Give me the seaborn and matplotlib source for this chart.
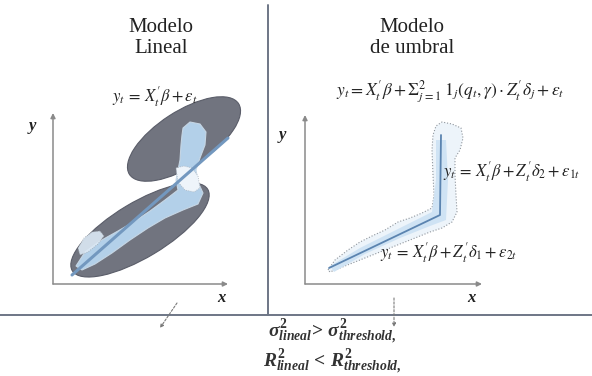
import numpy as np
import pandas as pd
import seaborn as sns
import matplotlib
matplotlib.use("Agg")
import matplotlib.pyplot as plt
from matplotlib.patches import Ellipse, Polygon

# ---------------- data (diagram coordinates, image pixels) ----------------
titles = ["Modelo\nLineal", "Modelo\nde umbral"]
eq_linear = r"$y_t\,=\,X_t'\beta+\varepsilon_t$"
eq_threshold = r"$y_t = X_t'\beta + \Sigma_{j=1}^{2}\; 1_j(q_t,\gamma)\cdot Z_t'\delta_j + \varepsilon_t$"
eq_regime2 = r"$y_t\,=\,X_t'\beta+Z_t'\delta_2+\epsilon_{1t}$"
eq_regime1 = r"$y_t\,=\,X_t'\beta+Z_t'\delta_1+\epsilon_{2t}$"
bottom_lines = [r"$\sigma^2_{lineal}\!>\,\sigma^2_{threshold,}$",
                r"$R^2_{lineal}\,<\,R^2_{threshold,}$"]

# linear fit line (left panel)
lin_x = [72, 228]
lin_y = [275, 138]
# threshold (piecewise) line (right panel)
thr_x = [329, 440, 441]
thr_y = [268, 215, 135]

# ellipses: centre x, centre y, major, minor, angle
ell_cx = [184, 140]
ell_cy = [139, 230]
ell_w = [130, 158]
ell_h = [55, 55]
ell_ang = [33, 31]

# left light-blue blob
blobL_x = [183, 190, 200, 206, 205, 200, 196, 198, 203, 198, 183, 165, 148, 130, 112, 95, 82,
           76, 85, 100, 118, 135, 150, 165, 178, 176, 178, 180, 181, 182]
blobL_y = [128, 122, 124, 132, 145, 158, 170, 182, 193, 204, 210, 218, 228, 240, 253, 264, 270,
           266, 252, 241, 231, 221, 211, 200, 190, 180, 170, 160, 145, 135]
# neck between ellipses
neck_x = [176, 184, 192, 198, 200, 194, 185, 178]
neck_y = [168, 166, 168, 176, 188, 192, 190, 182]
# small outlined patch (left)
patch_x = [78, 84, 92, 100, 104, 98, 88, 80]
patch_y = [248, 238, 232, 231, 236, 244, 252, 255]

# right outlined blob
blobR_x = [328, 335, 348, 360, 372, 385, 398, 410, 422, 432, 434, 433, 432, 433, 436, 442, 452,
           461, 463, 460, 455, 455, 456, 457, 452, 442, 430, 415, 400, 385, 370, 355, 340, 330]
blobR_y = [270, 260, 250, 242, 236, 230, 222, 218, 213, 208, 195, 175, 150, 135, 126, 122, 124,
           128, 138, 150, 158, 175, 195, 212, 222, 228, 232, 238, 244, 250, 256, 262, 268, 272]
# inner light-blue band (right)
bandR_x = [330, 360, 400, 432, 436, 436, 446, 448, 446, 430, 400, 365, 334]
bandR_y = [266, 248, 228, 212, 180, 140, 140, 180, 220, 226, 238, 254, 272]

# ---------------- drawing ----------------
sns.set_theme(style="white")
plt.rcParams["mathtext.fontset"] = "stix"
plt.rcParams["mathtext.rm"] = "Liberation Serif:bold"
plt.rcParams["mathtext.it"] = "Liberation Serif:italic:bold"
plt.rcParams["mathtext.bf"] = "Liberation Serif:bold"
plt.rcParams["font.family"] = ["Liberation Serif", "DejaVu Serif"]

W, H = 592, 376
fig = plt.figure(figsize=(W / 100, H / 100), dpi=100)
ax = fig.add_axes([0, 0, 1, 1])
ax.set_xlim(0, W)
ax.set_ylim(H, 0)
ax.axis("off")

txt = "#222222"
axis_c = "#8a8a8a"
frame_c = "#6e7686"

# frame lines
ax.plot([268, 268], [5, 315], color=frame_c, lw=1.4)
ax.plot([0, W], [315, 315], color=frame_c, lw=1.4)

# titles
ax.text(161, 38, titles[0], ha="center", va="center", fontsize=15, color=txt, linespacing=1.15)
ax.text(412, 38, titles[1], ha="center", va="center", fontsize=15, color=txt, linespacing=1.15)

# ellipses
for cx, cy, w, h, a in zip(ell_cx, ell_cy, ell_w, ell_h, ell_ang):
    ax.add_patch(Ellipse((cx, cy), w, h, angle=-a, facecolor="#71747f",
                         edgecolor="#5a5d69", lw=0.8, zorder=2))

# blobs
ax.add_patch(Polygon(np.c_[blobL_x, blobL_y], closed=True, facecolor="#b7d6f0",
                     edgecolor="#c8d8e6", lw=0.8, alpha=0.95, zorder=3))
ax.add_patch(Polygon(np.c_[neck_x, neck_y], closed=True, facecolor="#eef4fa",
                     edgecolor="#a9b2bd", lw=0.6, ls=":", zorder=3))
ax.add_patch(Polygon(np.c_[patch_x, patch_y], closed=True, facecolor="#dce9f5",
                     edgecolor="#9da3aa", lw=0.6, ls=":", alpha=0.9, zorder=3))
ax.add_patch(Polygon(np.c_[blobR_x, blobR_y], closed=True, facecolor="#edf4fa",
                     edgecolor="#8f959c", lw=0.8, ls=":", zorder=3))
ax.add_patch(Polygon(np.c_[bandR_x, bandR_y], closed=True, facecolor="#cfe3f4",
                     edgecolor="none", zorder=3))

# fit lines through seaborn
lin_df = pd.DataFrame({"x": lin_x, "y": lin_y})
thr_df = pd.DataFrame({"x": thr_x, "y": thr_y})
sns.lineplot(data=lin_df, x="x", y="y", sort=False, ax=ax, color="#7398bf", lw=2.2, zorder=4)
sns.lineplot(data=thr_df, x="x", y="y", sort=False, ax=ax, color="#5b84b0", lw=1.3, zorder=4)
ax.set_xlim(0, W)
ax.set_ylim(H, 0)
ax.axis("off")

# coordinate axes with arrows
arrow = dict(arrowstyle="-|>", color=axis_c, lw=1.1, mutation_scale=7, shrinkA=0, shrinkB=0)
for ox, top, right in [(53, 113, 228), (305, 115, 482)]:
    ax.annotate("", xy=(ox, top), xytext=(ox, 284), arrowprops=arrow, zorder=1)
    ax.annotate("", xy=(right, 284), xytext=(ox, 284), arrowprops=arrow, zorder=1)

lab = dict(ha="center", va="center", fontsize=12, color=txt, math_fontfamily="custom")
ax.text(33, 128, r"$y$", **lab)
ax.text(283, 137, r"$y$", **lab)
ax.text(222, 298, r"$x$", **lab)
ax.text(472, 298, r"$x$", **lab)

# equations
eq = dict(va="center", fontsize=12, color=txt, zorder=5)
ax.text(155, 97, eq_linear, ha="center", **eq)
ax.text(450, 92, eq_threshold, ha="center", fontsize=12.5, va="center", color=txt, zorder=5)
ax.text(443, 172, eq_regime2, ha="left", **eq)
ax.text(380, 253, eq_regime1, ha="left", **eq)

# small dashed pointers
dash = dict(arrowstyle="-|>", color="#7a7a7a", lw=0.8, ls=(0, (2, 1.5)), mutation_scale=5,
            shrinkA=0, shrinkB=0)
ax.annotate("", xy=(160, 328), xytext=(177, 303), arrowprops=dash)
ax.annotate("", xy=(394, 327), xytext=(394, 298), arrowprops=dash)

# bottom conclusion
bot = dict(ha="center", va="center", fontsize=14, color="#333333", math_fontfamily="custom")
ax.text(332, 332, bottom_lines[0], **bot)
ax.text(332, 362, bottom_lines[1], **bot)

fig.savefig("out.png", dpi=100, facecolor="white")
